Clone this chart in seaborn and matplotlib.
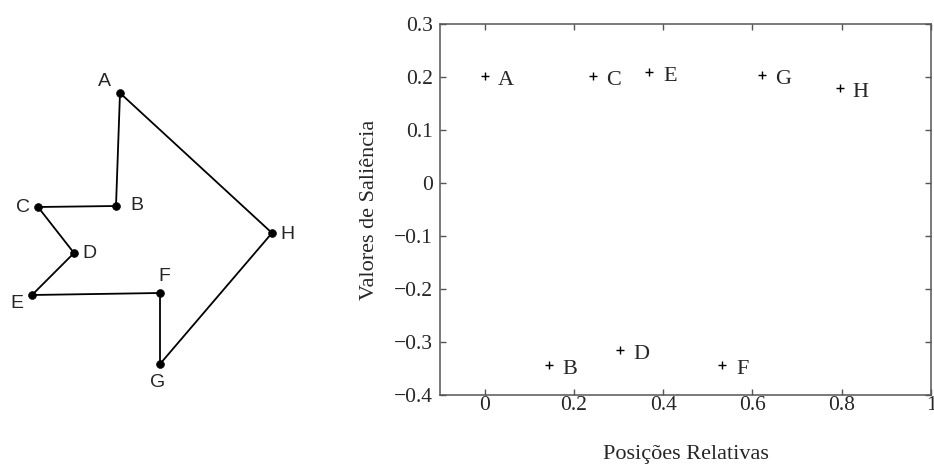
import numpy as np
import pandas as pd
import seaborn as sns
import matplotlib.pyplot as plt

# Shape outline (left drawing), vertices in picture units ######################
shape_labels = ['A', 'B', 'C', 'D', 'E', 'F', 'G', 'H']
shape_x = [120, 116, 38, 74, 32, 160, 160, 272]
shape_y = [93, 206, 207, 253, 295, 293, 364, 233]
# offset of each letter from its vertex (points)
shape_lab_dx = [-11, 15, -11, 11, -11, 3, -2, 11]
shape_lab_dy = [8, 0, 0, 0, -6, 12, -13, -1]

# Saliency values (right chart) ###############################################
point_labels = ['A', 'B', 'C', 'D', 'E', 'F', 'G', 'H']
pos_rel = [0.0, 0.144, 0.243, 0.304, 0.369, 0.532, 0.621, 0.796]
saliencia = [0.201, -0.344, 0.201, -0.315, 0.209, -0.344, 0.204, 0.179]

xticks = [0, 0.2, 0.4, 0.6, 0.8, 1]
xtick_labels = ['0', '0.2', '0.4', '0.6', '0.8', '1']
yticks = [-0.4, -0.3, -0.2, -0.1, 0, 0.1, 0.2, 0.3]
ytick_labels = ['\u22120.4', '\u22120.3', '\u22120.2', '\u22120.1', '0', '0.1', '0.2', '0.3']

df_shape = pd.DataFrame({'x': shape_x, 'y': shape_y, 'lab': shape_labels})
df_closed = pd.concat([df_shape, df_shape.iloc[[0]]], ignore_index=True)

df_sal = pd.DataFrame({'pos': pos_rel, 'sal': saliencia, 'lab': point_labels})

sns.set_style('ticks')
plt.rcParams['font.family'] = ['Liberation Serif', 'DejaVu Serif']

fig = plt.figure(figsize=(9.34, 4.71), dpi=100)

# Left panel: the shape ########################################################
ax0 = fig.add_axes([0, 0, 380 / 934, 1])
sns.lineplot(data=df_closed, x='x', y='y', sort=False, estimator=None,
             color='black', linewidth=1.3, ax=ax0)
sns.scatterplot(data=df_shape, x='x', y='y', color='black', s=32,
                edgecolor='black', ax=ax0, zorder=3)
for i, row in df_shape.iterrows():
    ax0.annotate(row['lab'], (row['x'], row['y']),
                 xytext=(shape_lab_dx[i], shape_lab_dy[i]), textcoords='offset points',
                 ha='center', va='center', fontsize=14,
                 family=['Liberation Sans', 'DejaVu Sans'])
ax0.set_xlim(0, 380)
ax0.set_ylim(471, 0)
ax0.axis('off')

# Right panel: saliency values #################################################
ax = fig.add_axes([440 / 934, 1 - 395 / 471, 491 / 934, 371 / 471])
sns.scatterplot(data=df_sal, x='pos', y='sal', marker='+', color='black',
                s=30, linewidth=1, ax=ax)
for i, row in df_sal.iterrows():
    ax.annotate(row['lab'], (row['pos'], row['sal']),
                xytext=(15, -3), textcoords='offset points',
                ha='center', va='center', fontsize=16)

ax.set_xlim(-0.1, 1)
ax.set_ylim(-0.4, 0.3)
ax.set_xticks(xticks)
ax.set_xticklabels(xtick_labels)
ax.set_yticks(yticks)
ax.set_yticklabels(ytick_labels)
ax.tick_params(direction='in', top=True, right=True, length=4, width=1,
               color='#555555', labelsize=15.5)
ax.tick_params(axis='x', pad=1)
ax.tick_params(axis='y', pad=5)
for s in ax.spines.values():
    s.set_color('#555555')
    s.set_linewidth(1.1)

ax.set_xlabel('Posições Relativas', fontsize=16)
ax.set_ylabel('Valores de Saliência', fontsize=16)
ax.xaxis.set_label_coords(0.5, -0.135)
ax.yaxis.set_label_coords(-0.125, 0.5)

fig.savefig('out.png', dpi=100)
